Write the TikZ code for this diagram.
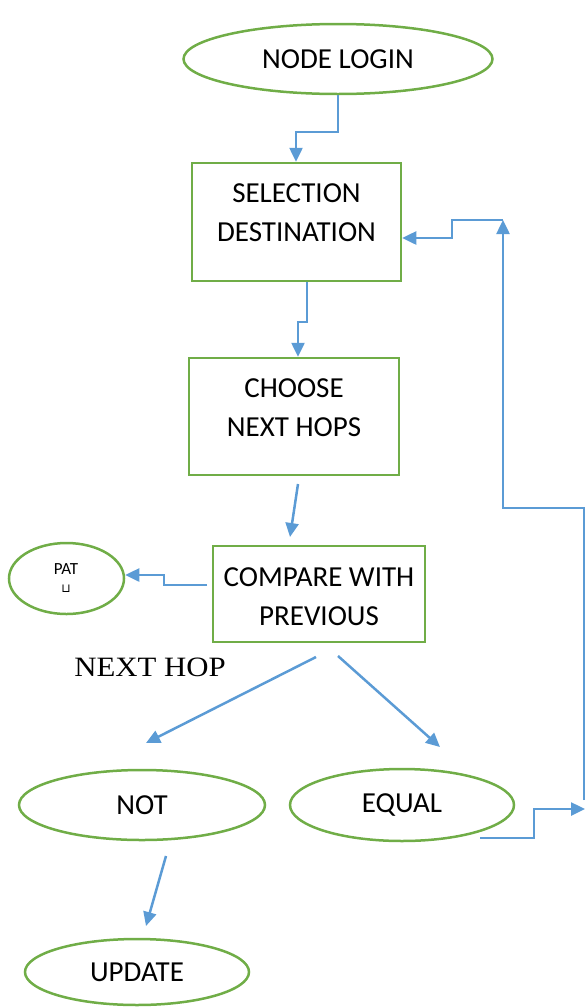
\documentclass[tikz,border=0pt]{standalone}
\usepackage{fontspec}
\setmainfont{Carlito}
\newfontfamily\timesf[FakeStretch=1.1]{Liberation Serif}
\newfontfamily\djv{DejaVu Sans}
\usetikzlibrary{shapes.geometric,arrows.meta}
\definecolor{gboxc}{RGB}{112,173,71}
\definecolor{blc}{RGB}{91,155,213}
\begin{document}
\begin{tikzpicture}[x=1pt,y=-1pt,
  box/.style={draw=gboxc, line width=2.5pt, rectangle, inner sep=0pt},
  ell/.style={draw=gboxc, line width=2.5pt, ellipse, inner sep=0pt, font=\fontsize{29}{32}\selectfont},
  txt/.style={align=center, inner sep=0pt, font=\fontsize{29}{39}\selectfont},
  arr/.style={draw=blc, line width=2.5pt, -{Triangle[width=13pt,length=14pt]}},
  ln/.style={draw=blc, line width=2.5pt}]
\useasboundingbox (0,0) rectangle (585,1007);

% nodes
\node[ell, minimum width=309pt, minimum height=70pt] (login) at (338,59) {NODE LOGIN};
\node[box, minimum width=209pt, minimum height=118pt] (sel) at (296.5,222) {};
\node[txt] (selt) at (296.5,213) {SELECTION\\DESTINATION};
\node[box, minimum width=210pt, minimum height=117pt] (cho) at (294,416.5) {};
\node[txt] (chot) at (294,408) {CHOOSE\\NEXT HOPS};
\node[box, minimum width=212pt, minimum height=96pt] (cmp) at (319,594) {};
\node[txt] (cmpt) at (319,597) {COMPARE WITH\\PREVIOUS};
\node[ell, minimum width=115pt, minimum height=71pt] (pat) at (66.5,578.5) {};
\node[inner sep=0pt, font=\fontsize{17}{17}\selectfont] (patt) at (66,569) {PAT};
\node[inner sep=0pt, font=\djv\fontsize{12}{12}\selectfont] (patm) at (66,589) {⊔};
\node[inner sep=0pt, font=\timesf\fontsize{28}{30}\selectfont] (nh) at (150,667) {NEXT HOP};
\node[ell, minimum width=246pt, minimum height=70pt] (not) at (142,805) {NOT};
\node[ell, minimum width=224pt, minimum height=72pt] (eq) at (402,805) {EQUAL};
\node[ell, minimum width=224pt, minimum height=66pt] (upd) at (137,972) {UPDATE};

% connectors
\draw[arr] (login.south) |- (296,132) -- (296,0 |- sel.north);
\draw[arr] (307,0 |- sel.south) |- (298,322) -- (298,0 |- cho.north);
\coordinate (c1) at (298,484);
\coordinate (c2) at (290,537);
\draw[arr] (c1) -- (c2);
\draw[arr] (207,585) -- (164,585) |- (0,575 -| pat.east);
\coordinate (c3) at (316,657);
\coordinate (c4) at (146,743);
\coordinate (c5) at (338,656);
\coordinate (c6) at (440,747);
\draw[arr] (c3) -- (c4);
\draw[arr] (c5) -- (c6);
\coordinate (c7) at (166,856);
\coordinate (c8) at (146,926);
\draw[arr] (c7) -- (c8);
\coordinate (e1) at (480,838);
\coordinate (e2) at (585,809);
\draw[arr] (e1) -- (534,838) |- (e2);
\coordinate (r1) at (584,800);
\coordinate (r2) at (503,220);
\draw[arr] (r1) |- (503,508) -- (r2);
\draw[arr] (r2) -| (452,238) -- (sel.east |- 0,238);
\end{tikzpicture}
\end{document}
